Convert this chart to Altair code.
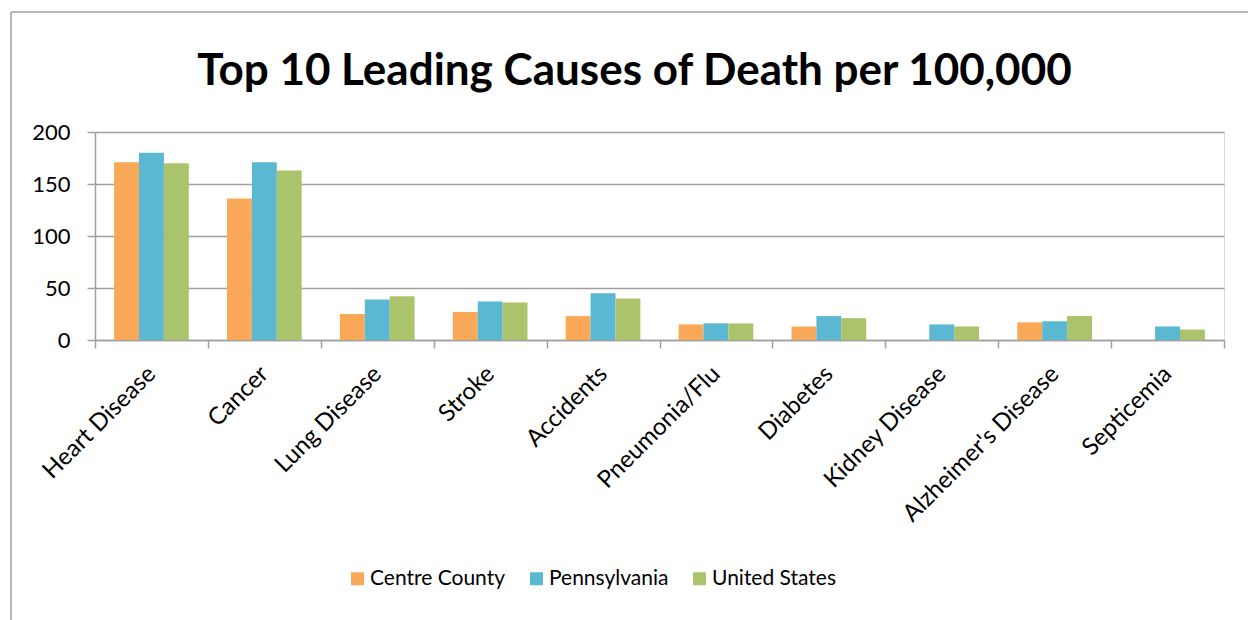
import altair as alt
import pandas as pd

# Death rates per 100,000 by cause and geography
causes = ["Heart Disease", "Cancer", "Lung Disease", "Stroke", "Accidents",
          "Pneumonia/Flu", "Diabetes", "Kidney Disease", "Alzheimer's Disease", "Septicemia"]
series = ["Centre County", "Pennsylvania", "United States"]
centre_county = [171, 136, 25, 27, 23, 15, 13, None, 17, None]
pennsylvania = [180, 171, 39, 37, 45, 16, 23, 15, 18, 13]
united_states = [170, 163, 42, 36, 40, 16, 21, 13, 23, 10]
colors = ["#F9A857", "#5BB8D2", "#ABC46B"]

rows = []
for name, vals in zip(series, [centre_county, pennsylvania, united_states]):
    for cause, v in zip(causes, vals):
        if v is not None:
            rows.append({"cause": cause, "region": name, "rate": v})
df = pd.DataFrame(rows)

FONT = "Lato"
W, H = 1129, 208

bars = alt.Chart(df).mark_bar().encode(
    x=alt.X("cause:N", sort=causes, title=None,
            scale=alt.Scale(paddingInner=0, paddingOuter=0),
            axis=alt.Axis(labelAngle=-45, labelAlign="right", labelBaseline="middle",
                          labelFontSize=24, labelColor="#000000", labelFont=FONT,
                          labelPadding=22, labelLimit=400, tickBand="extent", tickSize=8,
                          tickColor="#A0A0A0", domainColor="#A0A0A0",
                          tickWidth=1.5, domainWidth=1.5, grid=False)),
    xOffset=alt.XOffset("region:N", sort=series,
                        scale=alt.Scale(paddingInner=0, paddingOuter=0.767)),
    y=alt.Y("rate:Q", title=None,
            scale=alt.Scale(domain=[0, 200], nice=False),
            axis=alt.Axis(values=[0, 50, 100, 150, 200], labelFontSize=22,
                          labelColor="#000000", labelFont=FONT, labelPadding=17,
                          tickSize=8, tickColor="#A0A0A0", domainColor="#A0A0A0",
                          tickWidth=1.5, domainWidth=1.5, gridColor="#A0A0A0",
                          gridWidth=1.5)),
    color=alt.Color("region:N", sort=series,
                    scale=alt.Scale(domain=series, range=colors),
                    legend=alt.Legend(title=None, orient="none", direction="horizontal",
                                      legendX=252, legendY=436,
                                      symbolType="square", symbolSize=169,
                                      symbolStrokeWidth=0, labelFontSize=21,
                                      labelFont=FONT, labelColor="#000000",
                                      labelOffset=2, columnPadding=20)),
)

# Outer frame of the chart (left and top edges)
frame_data = alt.Data(values=[{"k": 1}])
left_edge = alt.Chart(frame_data).mark_rule(color="#A0A0A0", strokeWidth=1.5).encode(
    x=alt.value(-84), y=alt.value(-120), y2=alt.value(H + 300))
top_edge = alt.Chart(frame_data).mark_rule(color="#A0A0A0", strokeWidth=1.5).encode(
    x=alt.value(-84), x2=alt.value(W + 200), y=alt.value(-120))

chart = alt.layer(bars, left_edge, top_edge).properties(
    width=W, height=H,
    title=alt.TitleParams("Top 10 Leading Causes of Death per 100,000",
                          fontSize=44, font=FONT, fontWeight="bold", color="#000000",
                          anchor="middle", frame="group", offset=-118, dx=-25,
                          baseline="alphabetic"),
    autosize=alt.AutoSizeParams(type="none"),
    padding={"left": 95, "top": 132, "right": 24, "bottom": 280},
).configure_view(stroke=None).configure(background="#FFFFFF")

chart.save("out.html", embed_options={"renderer": "svg", "actions": False})
